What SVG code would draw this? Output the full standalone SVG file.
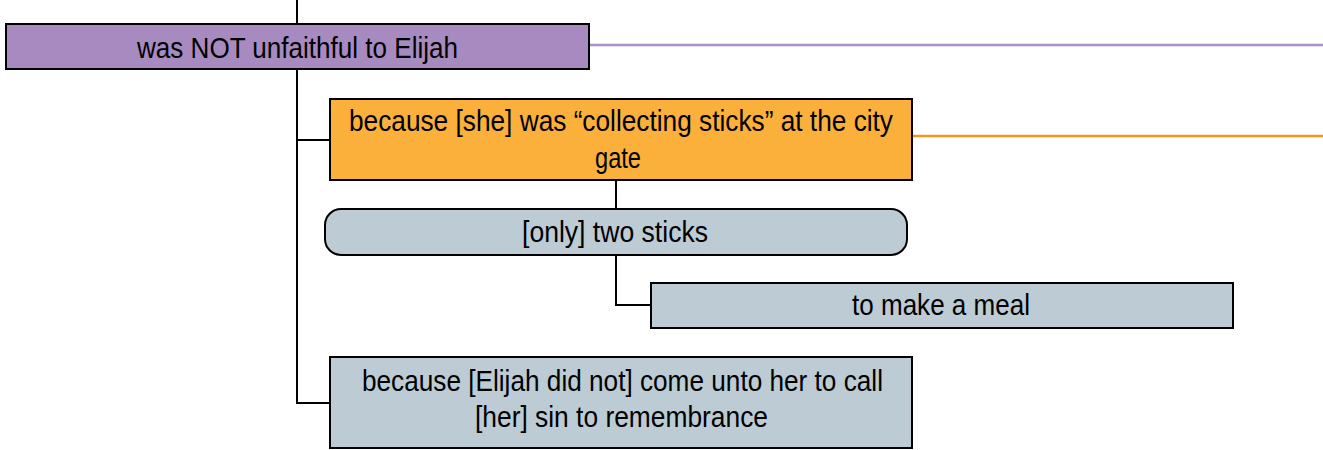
<svg xmlns="http://www.w3.org/2000/svg" width="1323" height="450" viewBox="0 0 1323 450">
<style>
.box{stroke:#000;stroke-width:2}
.t{font-family:"Liberation Sans",Arial,sans-serif;font-size:29px;fill:#000;text-anchor:middle}
.c{fill:none;stroke:#000;stroke-width:2}
</style>
<rect width="1323" height="450" fill="#fff"/>
<g id="connectors">
<line x1="589" y1="45" x2="1323" y2="45" stroke="#a991c8" stroke-width="2.5"/>
<line x1="912" y1="136" x2="1323" y2="136" stroke="#f7941d" stroke-width="2.5"/>
<path class="c" d="M297 0V24M297 69V403H330M297 140H330"/>
<path class="c" d="M616 180V209M616 255V305H651"/>
</g>
<g id="n1">
<rect class="box" x="6" y="24" width="583" height="45" fill="#a78bc0"/>
<text class="t" x="297.5" y="58" textLength="321" lengthAdjust="spacingAndGlyphs">was NOT unfaithful to Elijah</text>
</g>
<g id="n2">
<rect class="box" x="330" y="99" width="582" height="81" fill="#fbb03b"/>
<text class="t" x="621" y="131" textLength="544" lengthAdjust="spacingAndGlyphs">because [she] was “collecting sticks” at the city</text>
<text class="t" x="618" y="167.5" textLength="46" lengthAdjust="spacingAndGlyphs">gate</text>
</g>
<g id="n3">
<rect class="box" x="325" y="209" width="582" height="46" rx="16" fill="#bccbd4"/>
<text class="t" x="615" y="242" textLength="186" lengthAdjust="spacingAndGlyphs">[only] two sticks</text>
</g>
<g id="n4">
<rect class="box" x="651" y="283" width="582" height="45" fill="#bccbd4"/>
<text class="t" x="941" y="315" textLength="178" lengthAdjust="spacingAndGlyphs">to make a meal</text>
</g>
<g id="n5">
<rect class="box" x="330" y="357" width="582" height="91" fill="#bccbd4"/>
<text class="t" x="622.5" y="391" textLength="521" lengthAdjust="spacingAndGlyphs">because [Elijah did not] come unto her to call</text>
<text class="t" x="621.5" y="427" textLength="293" lengthAdjust="spacingAndGlyphs">[her] sin to remembrance</text>
</g>
</svg>
